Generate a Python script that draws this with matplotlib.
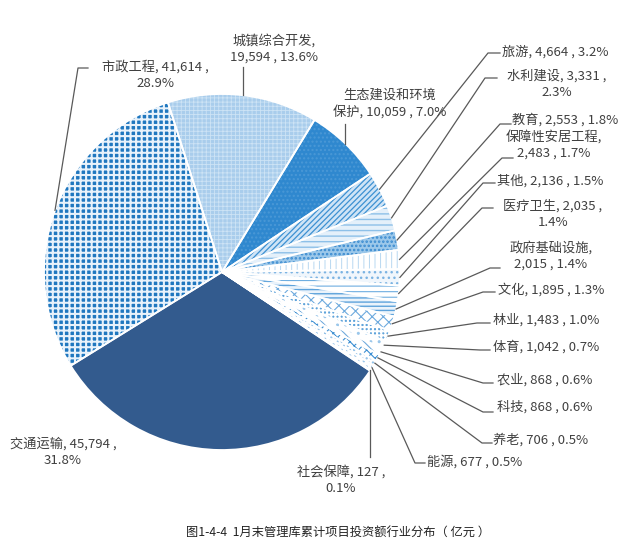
import matplotlib
matplotlib.use('Agg')
import matplotlib.pyplot as plt
from matplotlib.patches import Wedge
import numpy as np

plt.rcParams['font.family'] = ['Noto Sans CJK SC', 'DejaVu Sans']

# data (亿元, share %)
categories = ['交通运输', '市政工程', '城镇综合开发', '生态建设和环境保护', '旅游', '水利建设',
              '教育', '保障性安居工程', '其他', '医疗卫生', '政府基础设施', '文化', '林业',
              '体育', '农业', '科技', '养老', '能源', '社会保障']
values = [45794, 41614, 19594, 10059, 4664, 3331, 2553, 2483, 2136, 2035, 2015,
          1895, 1483, 1042, 868, 868, 706, 677, 127]
percents = [31.8, 28.9, 13.6, 7.0, 3.2, 2.3, 1.8, 1.7, 1.5, 1.4, 1.4, 1.3, 1.0,
            0.7, 0.6, 0.6, 0.5, 0.5, 0.1]

# how each label wraps: '' one line, 'v' after value, 'n' after name, int = inside name
wraps = ['v', 'v', 'n', 7, '', 'v', '', 'n', '', 'v', 'n', '', '', '', '', '', '', '', 'v']

# fill / pattern for each slice
fills = ['#335b8e', '#1f77bf', '#a9cdec', '#2f88cf', '#cfe4f6', '#e4f0fa', '#9cc8ea',
         '#ffffff', '#f0f6fc', '#ffffff', '#eaf3fb', '#ffffff', '#5fa3da', '#ffffff',
         '#ffffff', '#ffffff', '#ffffff', '#ffffff', '#ffffff']
hatches = [None, '+++', '++++', '....', '//////', '---', '....', '|||', '...', '---',
           '----', 'xxx', '++++', '..', '\\\\\\', 'xxxx', '....', '...', '...']
hatch_colors = [None, '#e8f2fb', '#cde3f5', '#4a98d6', '#3d91d2', '#8dc0e8', '#3a8bd0',
                '#b8d8f1', '#7bb3e2', '#6faee0', '#5ea3db', '#6daade', '#ffffff', '#9ac6ea',
                '#6fa9dc', '#3c8fd2', '#8bbde6', '#9ac6ea', '#9ac6ea']
hatch_lw = [0, 1.5, 0.6, 1.0, 0.9, 1.0, 1.2, 0.7, 1.0, 0.8, 1.0, 0.8, 1.5, 1.0, 0.8, 0.8, 1.0, 1.0, 1.0]

W, H = 640, 548
# label anchor in pixels (x, y from top, alignment)
label_pos = [(63, 452, 'center'), (155, 75, 'center'), (274, 49, 'center'), (390, 104, 'center'),
             (502, 52, 'left'), (557, 84, 'center'), (512, 120, 'left'), (554, 145, 'center'),
             (497, 181, 'left'), (553, 214, 'center'), (551, 256, 'center'), (498, 290, 'left'),
             (493, 320, 'left'), (493, 347, 'left'), (497, 380, 'left'), (497, 407, 'left'),
             (493, 440, 'left'), (427, 462, 'left'), (341, 480, 'center')]
# leader elbow: (x elbow, x end, y); x None = straight vertical line
elbows = [None, (78, 88, 68), (None, None, 67), (None, None, 124), (488, 500, 53),
          (485, 497, 78), (500, 511, 124), (502, 513, 158), (483, 495, 183),
          (482, 493, 208), (490, 500, 268), (483, 495, 292), (477, 490, 323),
          (480, 490, 350), (483, 493, 383), (483, 493, 412), (482, 492, 443),
          (415, 425, 463), (None, None, 457)]

fig = plt.figure(figsize=(6.4, 5.48), dpi=100)
ax = fig.add_axes([0, 0, 1, 1])

cx, cy, r = 222, H - 272, 178
wedges, _ = ax.pie(values, startangle=326.3, counterclock=False, center=(cx, cy),
                   radius=r, colors=fills, wedgeprops=dict(linewidth=0))

# pattern layer on top of each fill
for i, w in enumerate(wedges):
    if hatches[i] is None:
        continue
    plt.rcParams['hatch.linewidth'] = hatch_lw[i]
    p = Wedge((cx, cy), r, w.theta1, w.theta2, facecolor='none',
              edgecolor=hatch_colors[i], hatch=hatches[i], linewidth=0)
    if hasattr(p, 'set_hatch_linewidth'):
        p.set_hatch_linewidth(hatch_lw[i])
    ax.add_patch(p)

# white separators
for w in wedges:
    ax.add_patch(Wedge((cx, cy), r, w.theta1, w.theta2, facecolor='none',
                       edgecolor='white', linewidth=1.3))


def label_text(i):
    name, v, p = categories[i], f'{values[i]:,}', f'{percents[i]:.1f}%'
    wr = wraps[i]
    if wr == 'v':
        return f'{name}, {v} ,\n{p}'
    if wr == 'n':
        return f'{name},\n{v} , {p}'
    if isinstance(wr, int):
        return f'{name[:wr]}\n{name[wr:]}, {v} , {p}'
    return f'{name}, {v} , {p}'


for i, w in enumerate(wedges):
    x, y, ha = label_pos[i]
    ax.text(x, H - y, label_text(i), ha=ha, va='center', multialignment='center',
            fontsize=9.5, color='#404040', linespacing=1.3)
    e = elbows[i]
    if e is None:
        continue
    ang = np.deg2rad((w.theta1 + w.theta2) / 2)
    px, py = cx + r * np.cos(ang), cy + r * np.sin(ang)
    if e[0] is None:
        ax.plot([px, px], [py, H - e[2]], color='#595959', lw=0.9)
    else:
        ax.plot([px, e[0], e[1]], [py, H - e[2], H - e[2]], color='#595959', lw=0.9)

ax.set_xlim(0, W)
ax.set_ylim(0, H)
ax.set_aspect('auto')
ax.axis('off')

fig.text(338 / W, 1 - 532 / H, '图1-4-4  1月末管理库累计项目投资额行业分布（ 亿元 ）',
         ha='center', va='center', fontsize=8.8, color='#222222')

fig.savefig('out.png', dpi=100)
